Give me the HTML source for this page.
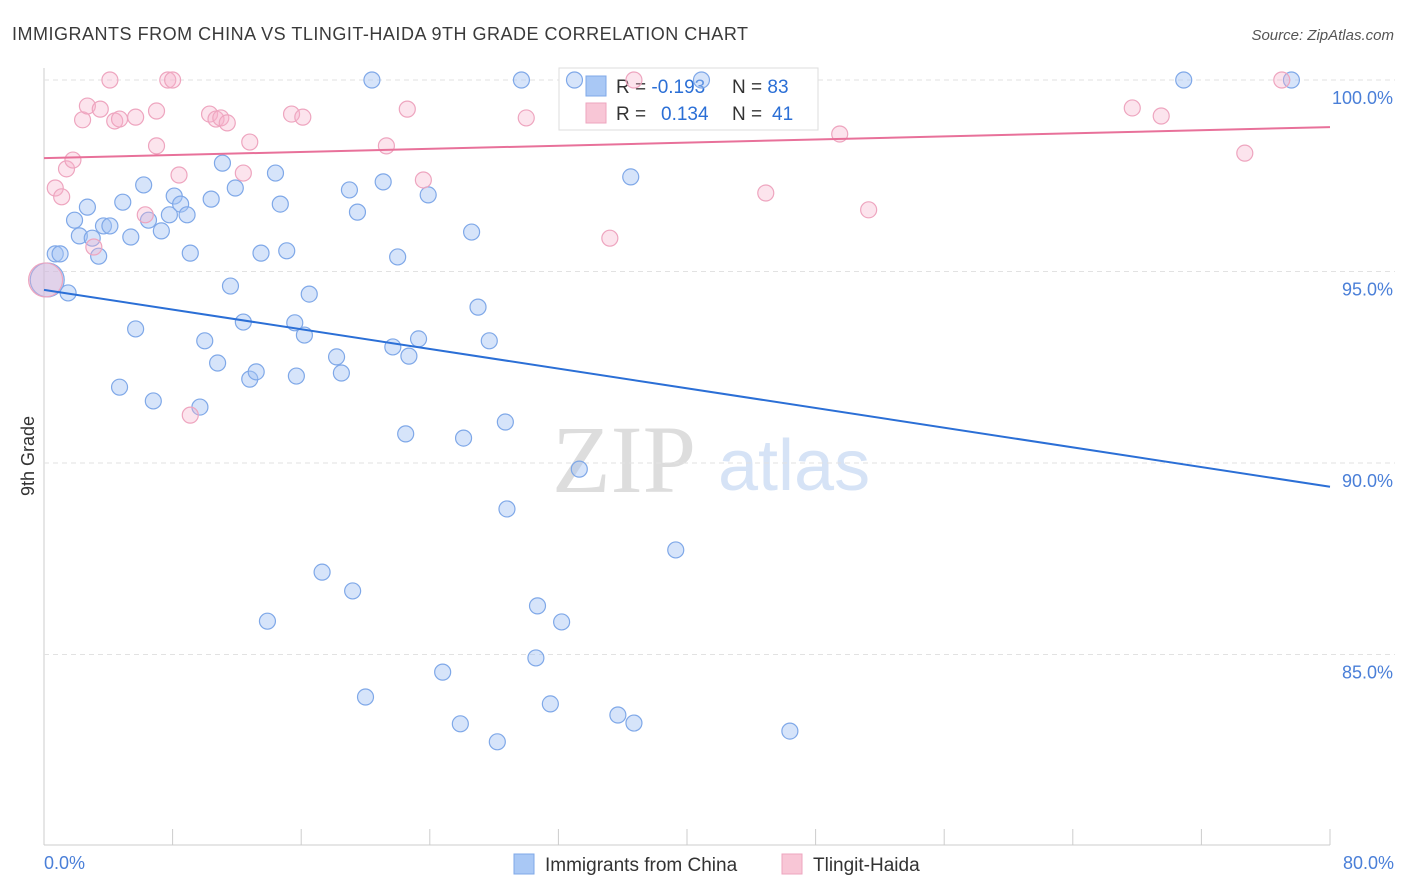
<!DOCTYPE html>
<html><head><meta charset="utf-8"><style>
body{margin:0;background:#fff;font-family:"Liberation Sans",sans-serif;}
#wrap{position:relative;width:1406px;height:892px;overflow:hidden;}
</style></head><body>
<div id="wrap">
<svg id="svg" width="1406" height="892" xmlns="http://www.w3.org/2000/svg">
<text x="12" y="40" font-size="18" fill="#3a3a3a" textLength="736">IMMIGRANTS FROM CHINA VS TLINGIT-HAIDA 9TH GRADE CORRELATION CHART</text>
<text x="1394" y="40" font-size="15" fill="#555" font-style="italic" text-anchor="end">Source: ZipAtlas.com</text>
<text x="552" y="492" font-size="96" fill="#ddd" font-family="Liberation Serif">ZIP</text>
<text x="718" y="490" font-size="72" fill="#d6e3f6">atlas</text>
<text transform="translate(34,456) rotate(-90)" font-size="18" fill="#333" text-anchor="middle">9th Grade</text>
<g id="grid"></g>
<g>
<rect x="559" y="68" width="259" height="62" fill="#fff" stroke="#ddd"/>
<rect x="586" y="76" width="20" height="20" fill="#a9c8f5" stroke="#7fa8e8"/>
<rect x="586" y="103" width="20" height="20" fill="#f8c6d6" stroke="#eea5bf"/>
<text x="616" y="93" font-size="19" fill="#333">R = <tspan fill="#2b6fd6">-0.193</tspan></text>
<text x="732" y="93" font-size="19" fill="#333">N = <tspan fill="#2b6fd6">83</tspan></text>
<text x="616" y="120" font-size="19" fill="#333">R = <tspan fill="#2b6fd6" x="661">0.134</tspan></text>
<text x="732" y="120" font-size="19" fill="#333">N = <tspan fill="#2b6fd6" x="772">41</tspan></text>
</g>
<g id="pts"></g><g id="lines"></g>
<text x="44" y="869" font-size="18" fill="#4a7fd8">0.0%</text>
<text x="1394" y="869" font-size="18" fill="#4a7fd8" text-anchor="end">80.0%</text>
<g>
<rect x="514" y="854" width="20" height="20" fill="#a9c8f5" stroke="#7fa8e8"/>
<text x="545" y="871" font-size="19" fill="#333">Immigrants from China</text>
<rect x="782" y="854" width="20" height="20" fill="#f8c6d6" stroke="#eea5bf"/>
<text x="813" y="871" font-size="19" fill="#333">Tlingit-Haida</text>
</g>
</svg>
</div>
<script>
const yTicks=[100,95,90,85];
const yTickLabels=["100.0%","95.0%","90.0%","85.0%"];
const xTicks=[0,8,16,24,32,40,48,56,64,72,80];
const chinaX=[0.7,1.0,1.5,1.9,2.2,2.7,3.0,3.4,3.7,4.1,4.7,4.9,5.4,5.7,6.2,6.5,6.8,7.3,7.8,8.1,8.5,8.9,9.1,9.7,10.0,10.4,10.8,11.1,11.6,11.9,12.4,12.8,13.2,13.5,13.9,14.4,14.7,15.1,15.6,15.7,16.2,16.5,17.3,18.2,18.5,19.0,19.2,19.5,20.0,20.4,21.1,21.7,22.0,22.5,22.7,23.3,23.9,24.8,25.9,26.1,26.6,27.0,27.7,28.2,28.7,28.8,29.7,30.7,30.6,31.5,32.2,33.0,33.3,35.7,36.5,36.7,39.3,40.9,46.4,70.9,77.6,0.2];
const chinaY=[95.46,95.46,94.44,96.34,95.93,96.68,95.87,95.40,96.19,96.19,91.98,96.81,95.90,93.50,97.26,96.34,91.62,96.06,96.48,96.97,96.76,96.48,95.48,91.46,93.19,96.89,92.61,97.83,94.62,97.18,93.68,92.19,92.38,95.48,85.87,97.57,96.76,95.54,93.66,92.27,93.34,94.41,87.15,92.77,92.35,97.13,86.66,96.55,83.89,100,97.34,93.03,95.38,90.76,92.79,93.24,97.00,84.54,83.19,90.65,96.03,94.07,93.19,82.72,91.07,88.80,100,86.27,84.91,83.71,85.85,100,89.84,83.42,97.47,83.21,87.73,100,83.00,100,100,94.78];
const tlingitX=[0.1,0.7,1.1,1.4,1.8,2.4,2.7,3.1,3.5,4.1,4.4,4.7,5.7,6.3,7.0,7.0,7.7,8.0,8.4,10.3,10.7,11.0,11.4,12.4,12.8,15.4,16.1,21.3,22.6,23.6,30.0,35.2,36.7,44.9,49.5,51.3,67.7,69.5,74.7,77.0,9.1];
const tlingitY=[94.78,97.18,96.95,97.68,97.91,98.96,99.32,95.64,99.24,100,98.93,98.98,99.03,96.48,98.28,99.19,100,100,97.52,99.11,98.98,99.01,98.88,97.57,98.38,99.11,99.03,98.28,99.24,97.39,99.01,95.87,100,97.05,98.59,96.61,99.27,99.06,98.09,100,91.25];
const chinaTrend=[94.52,89.38];
const tlingitTrend=[97.96,98.77];
const NS="http://www.w3.org/2000/svg";
function sx(v){return 44+v/80*1286;}
function sy(v){return 80+(100-v)*38.3;}
function mk(t,a,p){const e=document.createElementNS(NS,t);for(const k in a)e.setAttribute(k,a[k]);p.appendChild(e);return e;}
const grid=document.getElementById('grid');
const ax=mk('line',{x1:44,y1:68,x2:44,y2:845,stroke:'#ccc'},grid);


const bx=mk('line',{x1:44,y1:845,x2:1330,y2:845,stroke:'#ccc'},grid);


yTicks.forEach((v,i)=>{
 const g=mk('line',{x1:44,y1:sy(v),x2:1395,y2:sy(v),stroke:'#e2e2e2','stroke-dasharray':'5,4'},grid);
 
 
 const t=mk('text',{x:1393,y:sy(v)+24,'font-size':18,fill:'#4a7fd8','text-anchor':'end'},grid);
 t.textContent=yTickLabels[i];
 
 
});
xTicks.forEach(v=>{
 const t=mk('line',{x1:sx(v),y1:829,x2:sx(v),y2:845,stroke:'#ccc'},grid);
 
 
});
const pts=document.getElementById('pts');
function dots(X,Y,fill,stroke,name){X.forEach((x,i)=>{
 const big=(i===X.length-1&&name==='china-point')||(i===0&&name==='tlingit-point');
 const c=mk('circle',{cx:sx(x),cy:sy(Y[i]),r:big?17:8,fill:fill,stroke:stroke,'stroke-width':1.2},pts);
 
 
});}
dots(chinaX,chinaY,'rgba(164,196,244,0.45)','#7fa8e8','china-point');
dots(tlingitX,tlingitY,'rgba(246,178,202,0.35)','#eea5bf','tlingit-point');
const lines=document.getElementById('lines');
const l1=mk('line',{x1:sx(0),y1:sy(chinaTrend[0]),x2:sx(80),y2:sy(chinaTrend[1]),stroke:'#2b6fd6','stroke-width':2},lines);


const l2=mk('line',{x1:sx(0),y1:sy(tlingitTrend[0]),x2:sx(80),y2:sy(tlingitTrend[1]),stroke:'#e8719a','stroke-width':2},lines);


</script>
</body></html>
